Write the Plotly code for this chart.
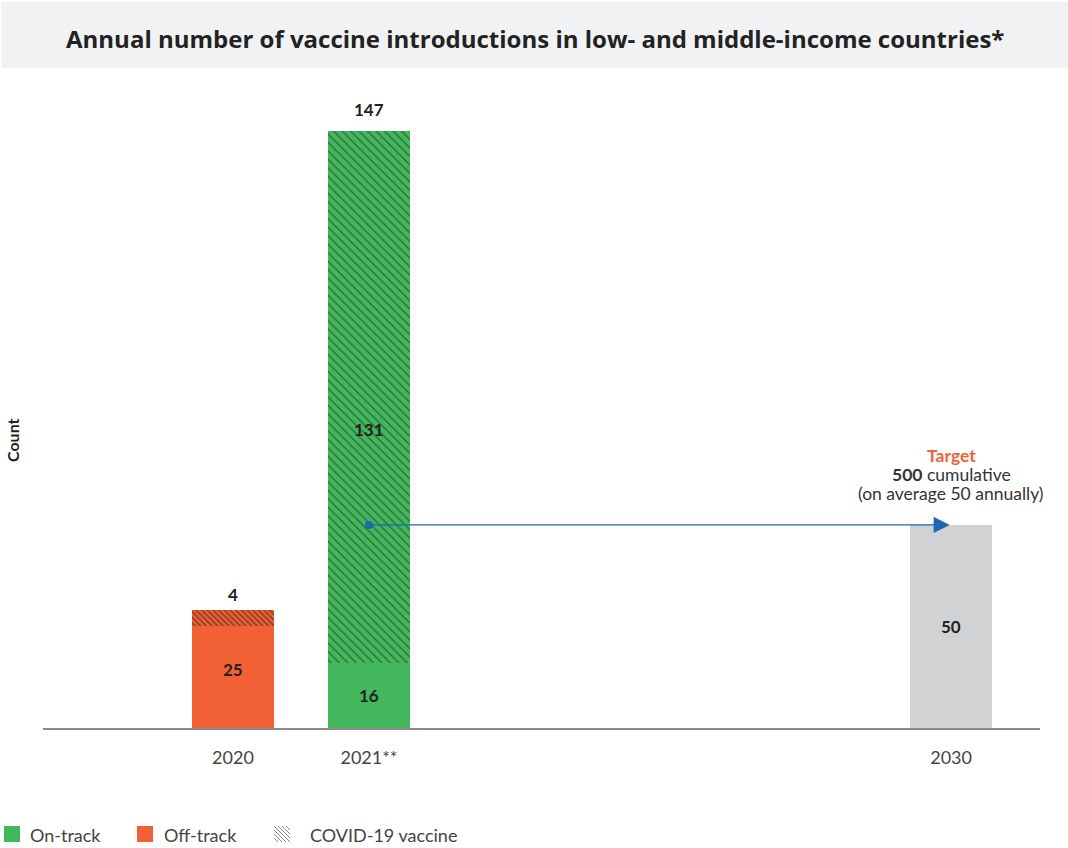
import plotly.graph_objects as go

# --- data -------------------------------------------------------------
years = ["2020", "2021**", "2030"]
on_track = [0, 16, 0]          # solid green segment
off_track = [25, 0, 0]         # solid orange segment
covid = [4, 131, 0]            # hatched COVID-19 vaccine segment
target = [0, 0, 50]            # 2030 annual target (grey)
target_cumulative = 500
target_annual = 50
legend_labels = ["On-track", "Off-track", "COVID-19 vaccine"]

# --- layout helpers -----------------------------------------------------
slot = {"2020": 0.0, "2021**": 1.0, "2030": 5.28}   # horizontal placement of each year
xs = [slot[y] for y in years]

W, H = 1068, 848
L, R, T, B = 43, 28, 78, 120
PW, PH = W - L - R, H - T - B


def px(x):
    """pixel x -> paper x"""
    return (x - L) / PW


def py(y):
    """pixel y -> paper y"""
    return (H - B - y) / PH


GREEN = "#43b75c"
ORANGE = "#f26135"
GREY = "#d1d2d4"
BLUE = "#1f66b3"
DARK = "#222222"
TXT = "#444444"
FONT = "Lato"

fig = go.Figure()

fig.add_bar(x=xs, y=on_track, width=0.6, marker=dict(color=GREEN, line=dict(width=0)),
            name="On-track")
fig.add_bar(x=xs, y=off_track, width=0.6, marker=dict(color=ORANGE, line=dict(width=0)),
            name="Off-track")
# hatched COVID-19 segments, coloured by the status of their year
for i, (col, size, solid) in enumerate([(ORANGE, 4, 0.4), (GREEN, 6, 0.22)]):
    fig.add_bar(x=[xs[i]], y=[covid[i]], width=0.6,
                marker=dict(color=col, line=dict(width=0),
                            pattern=dict(shape="\\", fgcolor="#1a1a1a", bgcolor=col,
                                         size=size, solidity=solid, fillmode="overlay")),
                name="COVID-19 vaccine")
fig.add_bar(x=xs, y=target, width=0.6, marker=dict(color=GREY, line=dict(width=0)),
            name="Target")

# arrow from 2021 to the 2030 target
fig.add_scatter(x=[slot["2021**"]], y=[target_annual], mode="markers",
                marker=dict(color=BLUE, size=8), hoverinfo="skip")
fig.add_annotation(x=slot["2030"] - 0.01, y=target_annual, ax=slot["2021**"], ay=target_annual,
                   xref="x", yref="y", axref="x", ayref="y", text="", showarrow=True,
                   arrowhead=2, arrowsize=2.3, arrowwidth=1.4, arrowcolor=BLUE)

# value labels
lab = dict(showarrow=False, font=dict(family=FONT, size=17, color=DARK))
i20, i21, i30 = 0, 1, 2
tot20 = off_track[i20] + covid[i20]
tot21 = on_track[i21] + covid[i21]
fig.add_annotation(x=xs[i20], y=tot20, yanchor="bottom", yshift=3, text=f"<b>{covid[i20]}</b>", **lab)
fig.add_annotation(x=xs[i20], y=tot20 / 2, text=f"<b>{off_track[i20]}</b>", **lab)
fig.add_annotation(x=xs[i21], y=tot21, yanchor="bottom", yshift=9, text=f"<b>{tot21}</b>", **lab)
fig.add_annotation(x=xs[i21], y=tot21 / 2, text=f"<b>{covid[i21]}</b>", **lab)
fig.add_annotation(x=xs[i21], y=on_track[i21] / 2, text=f"<b>{on_track[i21]}</b>", **lab)
fig.add_annotation(x=xs[i30], y=target[i30] / 2, text=f"<b>{target[i30]}</b>", **lab)

# target note, one line at a time
note = [
    ("<b>Target</b>", ORANGE, 69),
    (f"<b>{target_cumulative}</b> cumulative", "#333333", 50),
    (f"(on average {target_annual} annually)", "#333333", 31),
]
for txt, col, shift in note:
    fig.add_annotation(x=xs[i30], y=target_annual, yshift=shift, yanchor="middle",
                       showarrow=False, text=txt, borderpad=0,
                       font=dict(family=FONT, size=17.5, color=col))

# title band
fig.add_shape(type="rect", xref="paper", yref="paper",
              x0=px(1), x1=px(1068), y0=py(68), y1=py(2),
              fillcolor="#f1f2f4", line=dict(width=0), layer="below")
fig.add_annotation(xref="paper", yref="paper", x=px(535), y=py(38),
                   xanchor="center", yanchor="middle",
                   text="<b>Annual number of vaccine introductions in low- and middle-income countries*</b>",
                   showarrow=False, font=dict(family="Open Sans", size=24, color=DARK))

# y-axis title
fig.add_annotation(xref="paper", yref="paper", x=px(13), y=py(440),
                   xanchor="center", yanchor="middle",
                   text="<b>Count</b>", textangle=-90, showarrow=False,
                   font=dict(family=FONT, size=16, color=DARK))

# legend drawn below the chart
leg_x = [4, 137, 274]
leg_y0, leg_y1 = 826, 842
for c, x0 in zip([GREEN, ORANGE], leg_x[:2]):
    fig.add_shape(type="rect", xref="paper", yref="paper",
                  x0=px(x0), x1=px(x0 + 16), y0=py(leg_y1), y1=py(leg_y0),
                  fillcolor=c, line=dict(width=0))
hx = leg_x[2]
for d in [0, 4, 8, 12]:
    for (xa, ya, xb, yb) in [(hx + d, leg_y0, hx + 16, leg_y1 - d),
                             (hx, leg_y0 + d, hx + 16 - d, leg_y1)]:
        if xb - xa > 1:
            fig.add_shape(type="line", xref="paper", yref="paper",
                          x0=px(xa), y0=py(ya), x1=px(xb), y1=py(yb),
                          line=dict(color="#8a8a8a", width=1))
for x0, text, gap in zip(leg_x, legend_labels, [24, 25, 34]):
    fig.add_annotation(xref="paper", yref="paper", x=px(x0 + gap), y=py(835),
                       xanchor="left", yanchor="middle", text=text, showarrow=False,
                       font=dict(family=FONT, size=18, color=TXT))

fig.update_layout(
    width=W, height=H,
    margin=dict(l=L, r=R, t=T, b=B, autoexpand=False),
    paper_bgcolor="white", plot_bgcolor="white",
    barmode="stack", bargap=0, showlegend=False,
    font=dict(family=FONT, color=TXT),
    xaxis=dict(range=[-1.397, 5.934], tickvals=xs, ticktext=years, ticks="",
               showgrid=False, zeroline=False, showline=True, linecolor="#8a8a8a",
               linewidth=1.5, tickfont=dict(family=FONT, size=18, color=TXT),
               ticklabelstandoff=13),
    yaxis=dict(range=[0, 160], visible=False, showgrid=False, zeroline=False),
)

fig.write_html("out.html")
